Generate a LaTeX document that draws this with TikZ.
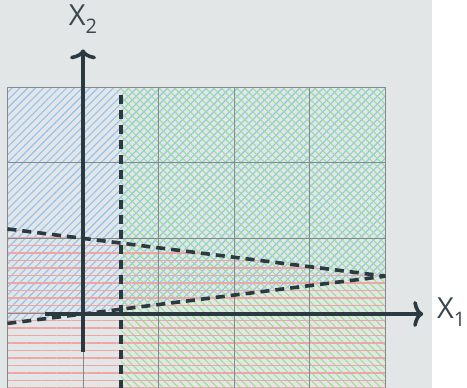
\documentclass[tikz,border=0pt]{standalone}
\usepackage{fontspec}
\setmainfont{Open Sans}
\usetikzlibrary{patterns.meta,arrows.meta}
\definecolor{bgc}{RGB}{227,230,230}
\definecolor{axc}{RGB}{42,58,64}
\definecolor{txc}{RGB}{58,72,78}
\definecolor{hblue}{RGB}{148,194,240}
\definecolor{hgreen}{RGB}{148,228,148}
\definecolor{hred}{RGB}{240,165,165}
\definecolor{gridc}{RGB}{130,138,138}
\tikzset{
  axisline/.style={draw=axc,line width=3.6pt,-{To[length=10pt,width=26pt,line width=3.6pt]}},
  bound/.style={draw=axc,line width=3.6pt,dash pattern=on 9pt off 6pt},
  lbl/.style={text=txc,font=\fontsize{29}{29}\selectfont,inner sep=0pt},
}
\begin{document}
\begin{tikzpicture}[x=75.6pt,y=75.6pt]
\useasboundingbox (-1.098,-0.979) rectangle (5.079,4.153);
\fill[bgc] (-1.098,-0.979) rectangle (4.616,4.153);
\begin{scope}
\clip (-1.098,-0.979) rectangle (5.079,4.153);
% blue region: y >= x/8
\fill[pattern={Lines[angle=45,distance=5.5pt,line width=1.1pt]},pattern color=hblue]
  (-1,-0.125) -- (4,0.5) -- (4,3) -- (-1,3) -- cycle;
% green region: x >= 0.5
\fill[pattern={Lines[angle=-45,distance=5.5pt,line width=1.1pt]},pattern color=hgreen]
  (0.5,-1.1) rectangle (4,3);
% red region: y <= 1 - x/8
\fill[pattern={Lines[angle=0,distance=7.5pt,line width=1.1pt]},pattern color=hred]
  (-1,1.125) -- (4,0.5) -- (4,-1.1) -- (-1,-1.1) -- cycle;
\draw[gridc,line width=1pt,step=1] (-1,-1.1) grid (4,3);
\coordinate (ul) at (-1,1.125);
\coordinate (ll) at (-1,-0.125);
\coordinate (rr) at (4,0.5);
\coordinate (vt) at (0.5,2.9);
\coordinate (vb) at (0.5,-1.1);
\draw[bound] (ul) -- (rr);
\draw[bound] (ll) -- (rr);
\draw[bound] (vt) -- (vb);
\coordinate (xs) at (-0.5,0);
\coordinate (xe) at (4.5,0);
\coordinate (ys) at (0,-0.5);
\coordinate (ye) at (0,3.5);
\draw[axisline] (xs) -- (xe);
\draw[axisline] (ys) -- (ye);
\end{scope}
\node[lbl] (x1) at (4.87,0.03) {X\raisebox{-0.28em}{\fontsize{20}{20}\selectfont 1}};
\node[lbl] (x2) at (0,3.9) {X\raisebox{-0.28em}{\fontsize{20}{20}\selectfont 2}};
\end{tikzpicture}
\end{document}
